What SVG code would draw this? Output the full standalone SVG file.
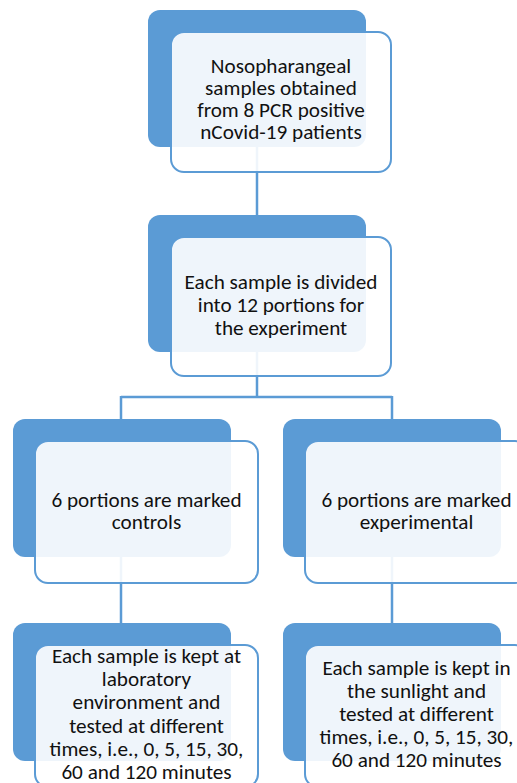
<svg xmlns="http://www.w3.org/2000/svg" width="517" height="783" viewBox="0 0 517 783">
<style>
.dk{fill:#5B9BD5;}
.lt{fill:#ffffff;fill-opacity:0.9;stroke:#5B9BD5;stroke-width:2;}
.cn{fill:none;stroke:#5B9BD5;stroke-width:2.5;}
text{font-family:"Carlito","Lato","Liberation Sans",sans-serif;font-size:21.2px;fill:#111;text-anchor:middle;}
</style>
<rect width="517" height="783" fill="#fff"/>
<g id="connectors">
<path class="cn" d="M257,147 V215" stroke="#4A7DB5"/>
<path class="cn" d="M257,352 V397 M121,397 H392 M121,396 V419 M392,396 V419"/>
<path class="cn" d="M121,557 V623 M392,557 V623"/>
</g>
<g id="n1">
<rect class="dk" x="148" y="10" width="218" height="137" rx="12"/>
<rect class="lt" x="171" y="32" width="220" height="140" rx="13"/>
<text x="281" y="73">Nosopharangeal</text>
<text x="281" y="95">samples obtained</text>
<text x="281" y="117">from 8 PCR positive</text>
<text x="281" y="138.5">nCovid-19 patients</text>
</g>
<g id="n2">
<rect class="dk" x="148" y="215" width="218" height="137" rx="12"/>
<rect class="lt" x="171" y="237" width="220" height="139" rx="13"/>
<text x="281" y="288.5">Each sample is divided</text>
<text x="281" y="311.5">into 12 portions for</text>
<text x="281" y="334.5">the experiment</text>
</g>
<g id="n3">
<rect class="dk" x="13" y="419" width="218" height="138" rx="12"/>
<rect class="lt" x="35" y="441" width="223" height="142" rx="13"/>
<text x="146.5" y="507">6 portions are marked</text>
<text x="146.5" y="528.5">controls</text>
</g>
<g id="n4">
<rect class="dk" x="283" y="419" width="218" height="138" rx="12"/>
<rect class="lt" x="305" y="441" width="223" height="142" rx="13"/>
<text x="416.5" y="507">6 portions are marked</text>
<text x="416.5" y="528.5">experimental</text>
</g>
<g id="n5">
<rect class="dk" x="13" y="623" width="218" height="138" rx="12"/>
<rect class="lt" x="35" y="645" width="223" height="142" rx="13"/>
<text x="146.5" y="663">Each sample is kept at</text>
<text x="146.5" y="686">laboratory</text>
<text x="146.5" y="709">environment and</text>
<text x="146.5" y="732.5">tested at different</text>
<text x="146.5" y="755.5">times, i.e., 0, 5, 15, 30,</text>
<text x="146.5" y="778.5">60 and 120 minutes</text>
</g>
<g id="n6">
<rect class="dk" x="283" y="623" width="218" height="138" rx="12"/>
<rect class="lt" x="305" y="645" width="223" height="142" rx="13"/>
<text x="416.5" y="675">Each sample is kept in</text>
<text x="416.5" y="698">the sunlight and</text>
<text x="416.5" y="721">tested at different</text>
<text x="416.5" y="744">times, i.e., 0, 5, 15, 30,</text>
<text x="416.5" y="767">60 and 120 minutes</text>
</g>
</svg>
